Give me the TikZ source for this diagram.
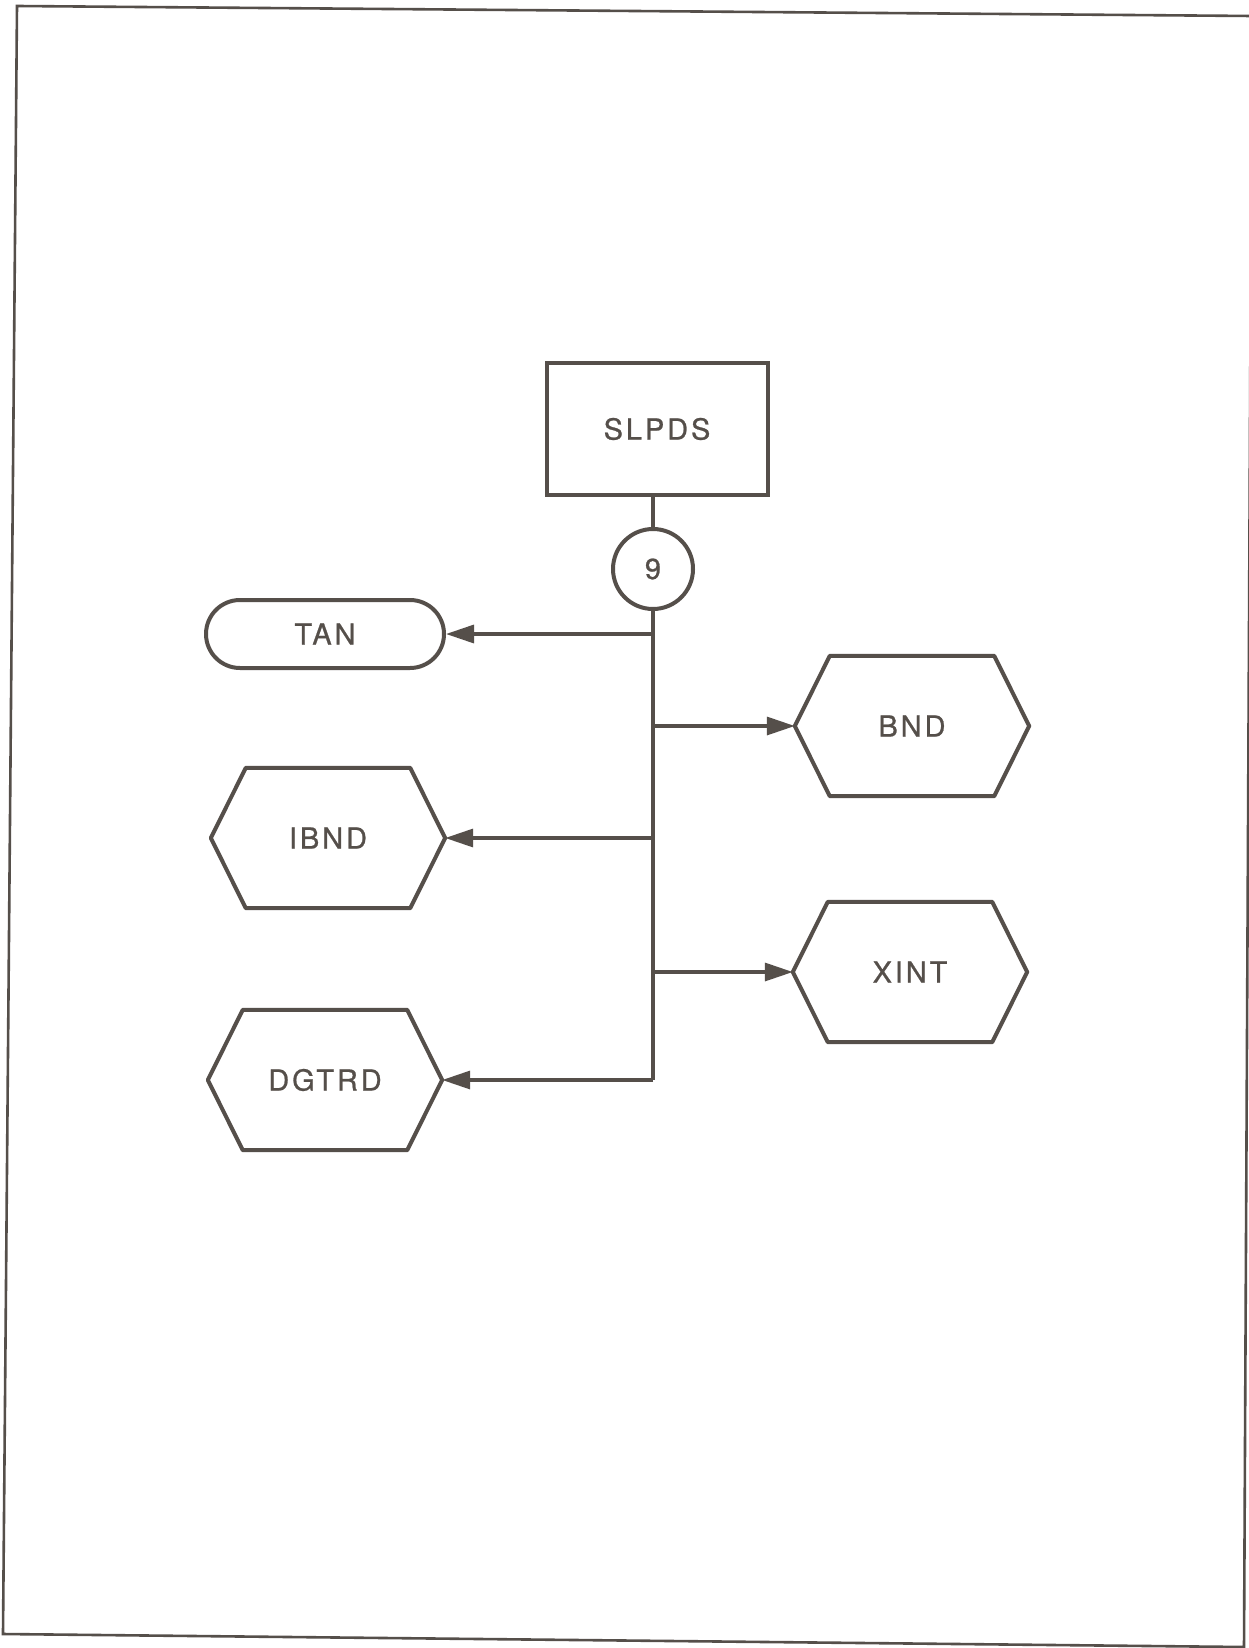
\documentclass[tikz,border=0pt]{standalone}
\usepackage{fontspec}
\setmainfont[LetterSpace=10,FakeBold=0.8]{TeX Gyre Heros}
\usetikzlibrary{arrows.meta,calc}
\definecolor{ink}{RGB}{85,79,74}
\begin{document}
\begin{tikzpicture}[x=1pt,y=-1pt,
  every node/.style={text=ink,font=\fontsize{29}{32}\selectfont},
  shapeline/.style={draw=ink,line width=4pt},
  conn/.style={draw=ink,line width=3.3pt},
  arr/.style={conn,-{Triangle[length=28pt,width=18pt]}},
  procbox/.style={shapeline,rectangle,minimum width=221pt,minimum height=132pt,inner sep=0pt},
  hexbox/.style={rectangle,minimum width=234pt,minimum height=140pt,inner sep=0pt},
  pill/.style={shapeline,rectangle,rounded corners=34pt,minimum width=238pt,minimum height=68pt,inner sep=0pt},
  conncirc/.style={shapeline,circle,minimum size=80pt,inner sep=0pt}]
\useasboundingbox (0,0) rectangle (1249,1648);
\fill[white] (0,0) rectangle (1249,1648);
% page frame
\draw[ink,line width=2.6pt,line join=miter] (17,6) -- (1252,16) -- (1244,1647) -- (3,1634) -- cycle;

\newcommand{\hexdraw}[1]{%
  \draw[shapeline,line join=round] (#1.west) -- ($(#1.north west)+(35,0)$) -- ($(#1.north east)+(-35,0)$) --
    (#1.east) -- ($(#1.south east)+(-35,0)$) -- ($(#1.south west)+(35,0)$) -- cycle;}

\node[procbox] (slpds) at (657,429) {SLPDS};
\node[conncirc] (c9) at (653,569) {9};
\node[pill] (tan) at (325,634) {TAN};
\node[hexbox] (bnd) at (912,726) {BND};
\node[hexbox] (ibnd) at (328,838) {IBND};
\node[hexbox] (xint) at (910,972) {XINT};
\node[hexbox] (dgtrd) at (325,1080) {DGTRD};
\hexdraw{bnd}
\hexdraw{ibnd}
\hexdraw{xint}
\hexdraw{dgtrd}

\coordinate (bot) at (653,1080);
\coordinate (jt) at (653,634);
\coordinate (jb) at (653,726);
\coordinate (ji) at (653,838);
\coordinate (jx) at (653,972);

\draw[conn] (slpds.south -| c9) -- (c9.north);
\draw[conn] (c9.south) -- (bot);
\draw[arr] (jt) -- (tan.east);
\draw[arr] (jb) -- (bnd.west);
\draw[arr] (ji) -- (ibnd.east);
\draw[arr] (jx) -- (xint.west);
\draw[arr] (bot) -- (dgtrd.east);
\end{tikzpicture}
\end{document}
